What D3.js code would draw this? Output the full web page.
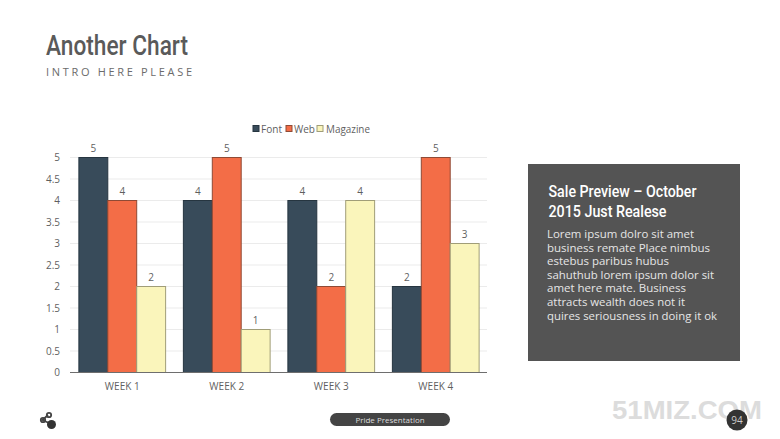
<!DOCTYPE html>
<html lang="en">
<head>
    <meta charset="UTF-8">
    <title>Another Chart</title>
    <style>
        html, body { margin: 0; padding: 0; background: #fff; overflow: hidden; }
        svg { display: block; }
        text { font-family: "Open Sans", sans-serif; }
        .grid line { stroke: #ebebeb; stroke-width: 1px; }
        .tick-label { font-size: 10px; fill: #5f5f5f; }
        .value-label { font-size: 10px; fill: #5f5f5f; text-anchor: middle; }
        .legend-label { font-size: 10.5px; fill: #5f5f5f; }
    </style>
    <script src="https://d3js.org/d3.v7.min.js"></script>
</head>
<body>
    <svg width="780" height="439"></svg>
    <script>
        var weeks = ["WEEK 1", "WEEK 2", "WEEK 3", "WEEK 4"];
        var seriesNames = ["Font", "Web", "Magazine"];
        var fontValues = [5, 4, 4, 2];
        var webValues = [4, 5, 2, 5];
        var magazineValues = [2, 1, 4, 3];
        var yTicks = [0, 0.5, 1, 1.5, 2, 2.5, 3, 3.5, 4, 4.5, 5];
        var seriesColors = ["#384b5a", "#f36d47", "#faf5bb"];
        var seriesStrokes = ["#263540", "#8f4a35", "#a09d78"];
        var panelLines = [
            "Lorem ipsum dolro sit amet",
            "business remate Place nimbus",
            "estebus paribus hubus",
            "sahuthub lorem ipsum dolor sit",
            "amet here mate. Business",
            "attracts wealth does not it",
            "quires seriousness in doing it ok"
        ];
        var panelWidths = [147, 163, 122, 167, 139, 138, 170];

        var allValues = [fontValues, webValues, magazineValues];

        var svg = d3.select("svg");

        // heading
        svg.append("text").attr("x", 46).attr("y", 55)
            .attr("textLength", 142).attr("lengthAdjust", "spacingAndGlyphs")
            .style("font-family", "Roboto").style("font-size", "27px").style("font-weight", 500).style("fill", "#5a5a5a")
            .text("Another Chart");
        svg.append("text").attr("x", 46).attr("y", 76)
            .attr("textLength", 146).attr("lengthAdjust", "spacing")
            .style("font-size", "11px").style("fill", "#6b6b6b")
            .text("INTRO HERE PLEASE");

        // chart
        var x = d3.scaleBand().domain(weeks).range([70, 488]).paddingInner(0.17).paddingOuter(0.085);
        var xInner = d3.scaleBand().domain(seriesNames).range([0, x.bandwidth()]);
        var y = d3.scaleLinear().domain([0, 5]).range([372.5, 157.5]);

        var grid = svg.append("g").attr("class", "grid");
        grid.selectAll("line").data(yTicks.slice(1)).join("line")
            .attr("x1", x.range()[0]).attr("x2", x.range()[1] - 1)
            .attr("y1", function(d) { return y(d); })
            .attr("y2", function(d) { return y(d); });

        svg.append("g").selectAll("text").data(yTicks).join("text")
            .attr("class", "tick-label")
            .attr("x", 60).attr("y", function(d) { return y(d) + 3.5; })
            .attr("text-anchor", "end")
            .text(function(d) { return d; });

        seriesNames.forEach(function(name, s) {
            var group = svg.append("g");
            group.selectAll("rect").data(allValues[s]).join("rect")
                .attr("x", function(d, i) { return x(weeks[i]) + xInner(name); })
                .attr("y", function(d) { return y(d); })
                .attr("width", xInner.bandwidth())
                .attr("height", function(d) { return y(0) - y(d); })
                .attr("fill", seriesColors[s])
                .attr("stroke", seriesStrokes[s]);
            group.selectAll("text").data(allValues[s]).join("text")
                .attr("class", "value-label")
                .attr("x", function(d, i) { return x(weeks[i]) + xInner(name) + xInner.bandwidth() / 2; })
                .attr("y", function(d) { return y(d) - 6; })
                .text(function(d) { return d; });
        });

        svg.append("line")
            .attr("x1", x.range()[0]).attr("x2", x.range()[1] - 1)
            .attr("y1", y(0)).attr("y2", y(0))
            .attr("stroke", "#6e6e6e").attr("stroke-width", 1.2);

        svg.append("g").selectAll("text").data(weeks).join("text")
            .attr("class", "tick-label")
            .attr("x", function(d) { return x(d) + x.bandwidth() / 2; })
            .attr("y", 390)
            .attr("text-anchor", "middle")
            .text(function(d) { return d; });

        // legend
        var legendX = [253, 286, 317];
        var legendWidths = [21, 21, 44];
        seriesNames.forEach(function(name, s) {
            svg.append("rect")
                .attr("x", legendX[s]).attr("y", 125.5).attr("width", 6).attr("height", 6)
                .attr("fill", seriesColors[s]).attr("stroke", seriesStrokes[s]);
            svg.append("text").attr("class", "legend-label")
                .attr("x", legendX[s] + 8 + (s === 2 ? 1 : 0)).attr("y", 132.5)
                .attr("textLength", legendWidths[s]).attr("lengthAdjust", "spacingAndGlyphs")
                .text(name);
        });

        // side panel
        svg.append("rect").attr("x", 528).attr("y", 164).attr("width", 212).attr("height", 197)
            .attr("fill", "#545454");
        ["Sale Preview \u2013 October", "2015 Just Realese"].forEach(function(line, i) {
            svg.append("text").attr("x", 548.5).attr("y", 197 + i * 20)
                .attr("textLength", i === 0 ? 148 : 118).attr("lengthAdjust", "spacingAndGlyphs")
                .style("font-family", "Roboto").style("font-size", "16px").style("font-weight", 500).style("fill", "#fff")
                .text(line);
        });
        panelLines.forEach(function(line, i) {
            svg.append("text").attr("x", 547).attr("y", 238 + i * 13.6)
                .attr("textLength", panelWidths[i]).attr("lengthAdjust", "spacingAndGlyphs")
                .style("font-size", "11.5px").style("fill", "#e6e6e6")
                .text(line);
        });

        // footer
        var share = svg.append("g").attr("fill", "none").attr("stroke", "#444").attr("stroke-width", 1.8);
        share.append("path").attr("d", "M48 415 L42.5 420 L51 424");
        share.append("circle").attr("cx", 49).attr("cy", 415).attr("r", 2.2);
        share.append("circle").attr("cx", 43).attr("cy", 420).attr("r", 2.2);
        svg.append("circle").attr("cx", 51.5).attr("cy", 424.5).attr("r", 4.5).attr("fill", "#333");

        svg.append("rect").attr("x", 330).attr("y", 413).attr("width", 120).attr("height", 13).attr("rx", 6.5)
            .attr("fill", "#444");
        svg.append("text").attr("x", 390).attr("y", 422.5).attr("text-anchor", "middle")
            .style("font-size", "8px").style("fill", "#ddd")
            .text("Pride Presentation");

        svg.append("text").attr("x", 612).attr("y", 419)
            .attr("textLength", 150).attr("lengthAdjust", "spacingAndGlyphs")
            .style("font-family", "Liberation Sans").style("font-size", "26px").style("font-weight", 700).style("fill", "#dcdcdc")
            .text("51MIZ.COM");
        svg.append("circle").attr("cx", 737).attr("cy", 420).attr("r", 10.5).attr("fill", "#333");
        svg.append("text").attr("x", 737).attr("y", 424).attr("text-anchor", "middle")
            .style("font-size", "10px").style("fill", "#ccc")
            .text("94");
    </script>
</body>
</html>
